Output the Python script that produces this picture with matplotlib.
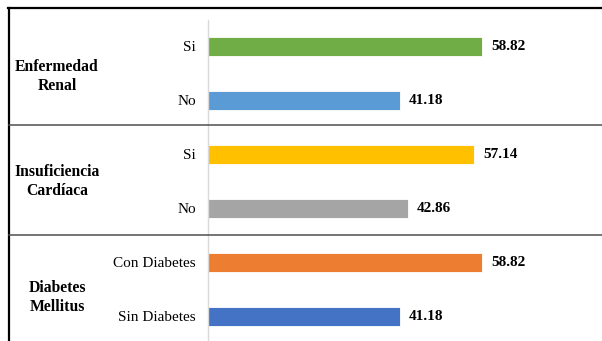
import numpy as np
import matplotlib
import matplotlib.pyplot as plt
from matplotlib.lines import Line2D
from matplotlib.transforms import blended_transform_factory

matplotlib.rc("font", family="Liberation Serif", size=11)

# Categories (top to bottom) and percentages
labels = ["Si", "No", "Si", "No", "Con Diabetes", "Sin Diabetes"]
values = [58.82, 41.18, 57.14, 42.86, 58.82, 41.18]
colors = ["#70AD47", "#5B9BD5", "#FFC000", "#A5A5A5", "#ED7D31", "#4472C4"]
groups = ["Enfermedad\nRenal", "Insuficiencia\nCardíaca", "Diabetes\nMellitus"]

W, H = 602, 341
fig = plt.figure(figsize=(W / 100, H / 100), dpi=100)

# plot area: from the value axis at x=208 to the right edge
ax = fig.add_axes([208 / W, 0, (W - 208) / W, (H - 20) / H])

y = np.arange(len(values))
ax.barh(y, values, height=0.35, color=colors, edgecolor="white", linewidth=0.6)
for yi, v in zip(y, values):
    ax.annotate(f"{v:.2f}", (v, yi), xytext=(6.5, 0), textcoords="offset points",
                va="center", ha="left", fontweight="bold")

ax.set_xlim(0, 84.5)
ax.set_ylim(5.46, -0.49)
ax.set_yticks(y)
ax.set_yticklabels(labels)
ax.set_xticks([])
ax.tick_params(axis="y", length=0, pad=8.6)
for side in ["top", "right", "bottom"]:
    ax.spines[side].set_visible(False)
ax.spines["left"].set_color("#d9d9d9")
ax.spines["left"].set_linewidth(1)

# group labels on the left, x in figure fraction, y in data units
trans = blended_transform_factory(fig.transFigure, ax.transData)
nudge = [0.065, 0.01, 0.15]
for i, g in enumerate(groups):
    yc = 2 * i + 0.5 + nudge[i]
    ax.text(57 / W, yc, g, transform=trans, ha="center", va="center",
            fontweight="bold", multialignment="center", linespacing=1.25,
            fontsize=11.3)

# frame: thick top and left border, separators between groups
def fx(px):
    return px / W

def fy(py):
    return 1 - py / H

fig.add_artist(Line2D([fx(8), fx(W)], [fy(8), fy(8)], color="black", lw=1.6))
fig.add_artist(Line2D([fx(9), fx(9)], [fy(8), fy(H)], color="black", lw=1.6))
for sep in [1.46, 3.49]:
    py = fig.transFigure.inverted().transform(ax.transData.transform((0, sep)))[1]
    fig.add_artist(Line2D([fx(9), fx(W)], [py, py], color="#505050", lw=1.1))

fig.savefig("out.png", dpi=100)
